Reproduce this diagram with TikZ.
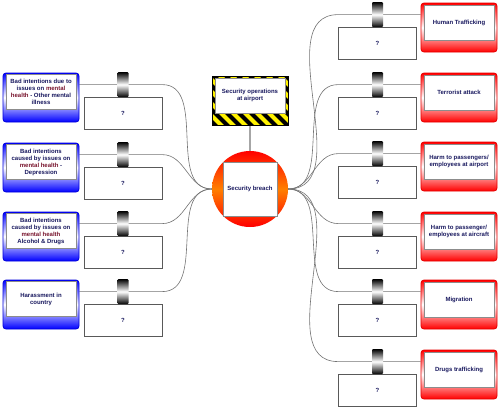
\documentclass[tikz,border=0pt]{standalone}
\usepackage{fontspec}
\setmainfont{Liberation Sans}
\usetikzlibrary{positioning,calc,backgrounds}
\definecolor{navy}{RGB}{25,25,95}
\definecolor{maroon}{RGB}{120,20,45}
\definecolor{wire}{RGB}{115,115,115}

\begin{document}
\begin{tikzpicture}[
  x=1pt, y=-1pt,
  font=\bfseries\fontsize{6}{7}\selectfont,
  frame/.style={
    rounded corners=3pt,
    minimum width=76pt,
    minimum height=49pt,
    line width=0.8pt
  },
  cause/.style={frame, draw=blue!85!black, top color=blue, bottom color=blue, middle color=white},
  effect/.style={frame, draw=red!90!black, top color=red, bottom color=red, middle color=white},
  tag/.style={
    draw=black!45,
    fill=white,
    minimum width=70pt,
    minimum height=35pt,
    inner sep=1pt,
    align=center,
    text=navy
  },
  hazard/.style={
    draw=black,
    line width=0.6pt,
    minimum width=76pt,
    minimum height=49pt,
    path picture={
      \fill[yellow] (path picture bounding box.south west) rectangle (path picture bounding box.north east);
      \foreach \s in {-96,-84,...,48}
        \draw[black, line width=4.2pt] ([xshift=\s pt]path picture bounding box.north) -- ++(60pt,-60pt);
    }
  },
  hub/.style={circle, minimum size=76pt, inner sep=0pt, top color=red, bottom color=red, middle color=orange},
  core/.style={draw=black!45, fill=white, minimum size=54pt, inner sep=0pt, text=navy},
  slot/.style={draw=black!65, fill=white, minimum width=78pt, minimum height=32pt, text=navy},
  grip/.style={
    rounded corners=1pt,
    minimum width=11pt,
    minimum height=25pt,
    inner sep=0pt,
    top color=black, bottom color=black, middle color=white
  },
  link/.style={wire, line width=0.6pt}
]
  \useasboundingbox (0,0) rectangle (500,416);

  % Centre
  \node[hub] (hub) at (250,189) {};
  \node[core] (breach) at (hub) {Security breach};
  \node[hazard] (ops) at (250,100.5) {};
  \node[tag] (opst) at ([yshift=5pt]ops) {Security operations\\at airport};

  % Causes (left)
  \node[cause] (c1) at (41,97.5) {};
  \node[tag] (c1t) at ([yshift=5.5pt]c1) {Bad intentions due to\\issues on \textcolor{maroon}{mental}\\\textcolor{maroon}{health} - Other mental\\illness};
  \node[cause] (c2) at (41,167.5) {};
  \node[tag] (c2t) at ([yshift=5.5pt]c2) {Bad intentions\\caused by issues on\\\textcolor{maroon}{mental health} -\\Depression};
  \node[cause] (c3) at (41,236.5) {};
  \node[tag] (c3t) at ([yshift=5.5pt]c3) {Bad intentions\\caused by issues on\\\textcolor{maroon}{mental health}\\Alcohol \& Drugs};
  \node[cause] (c4) at (41,304.5) {};
  \node[tag] (c4t) at ([yshift=5.5pt]c4) {Harassment in\\country};

  % Effects (right)
  \node[effect] (e1) at (459,27.5) {};
  \node[tag] (e1t) at ([yshift=5pt]e1) {Human Trafficking};
  \node[effect] (e2) at (459,97.5) {};
  \node[tag] (e2t) at ([yshift=5pt]e2) {Terrorist attack};
  \node[effect] (e3) at (459,166.5) {};
  \node[tag] (e3t) at ([yshift=5pt]e3) {Harm to passengers/\\employees at airport};
  \node[effect] (e4) at (459,236.5) {};
  \node[tag] (e4t) at ([yshift=5pt]e4) {Harm to passenger/\\employees at aircraft};
  \node[effect] (e5) at (459,304.5) {};
  \node[tag] (e5t) at ([yshift=5pt]e5) {Migration};
  \node[effect] (e6) at (459,374.5) {};
  \node[tag] (e6t) at ([yshift=5pt]e6) {Drugs trafficking};

  % Barriers
  \foreach \i in {1,...,4} {
    \node[slot] (cq\i) at ($(c\i)+(82,16)$) {?};
    \node[grip, above=0pt of cq\i] (cg\i) {};
  }
  \foreach \i in {1,...,6} {
    \node[slot] (eq\i) at ($(e\i)+(-81.5,16)$) {?};
    \node[grip, above=0pt of eq\i] (eg\i) {};
  }

  \begin{scope}[on background layer]
    \foreach \i in {1,...,4}
      \draw[link] (c\i.east |- cg\i) -- (cq\i.east |- cg\i) to[out=0,in=180] (hub.west);
    \foreach \i in {1,...,6}
      \draw[link] (hub.east) to[out=0,in=180] (eq\i.west |- eg\i) -- (e\i.west |- eg\i);
    \draw[black!35, line width=1.6pt] (ops) -- (hub);
  \end{scope}
\end{tikzpicture}
\end{document}
